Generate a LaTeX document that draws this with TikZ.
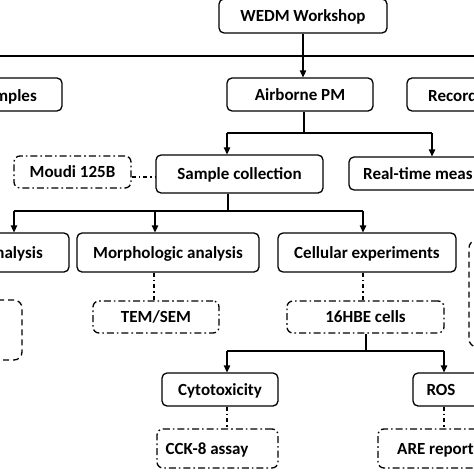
\documentclass[tikz,border=0pt]{standalone}
\usepackage{fontspec}
\setmainfont{Carlito}
\usetikzlibrary{arrows.meta}
\tikzset{
  every node/.style={font=\bfseries\fontsize{17}{20}\selectfont, text height=11pt, text depth=0pt, inner sep=0pt},
  box/.style={draw, rounded corners=5pt, line width=1.3pt},
  dbox/.style={draw, rounded corners=6pt, line width=1.3pt, dash pattern=on 7pt off 3pt on 1.6pt off 3pt},
  ldbox/.style={draw, rounded corners=8pt, line width=1.3pt, dash pattern=on 6pt off 4pt},
  conn/.style={line width=1.3pt},
  arr/.style={line width=1.3pt, -{Triangle[length=7pt,width=6.5pt]}},
  dconn/.style={line width=1.3pt, dash pattern=on 4pt off 3pt on 1.6pt off 3pt},
}
\begin{document}
\begin{tikzpicture}[x=1pt,y=-1pt]
\useasboundingbox (0,0) rectangle (474,474);
\clip (0,0) rectangle (474,474);
% row 0
\node[box, minimum width=168pt, minimum height=34pt] (wedm) at (303,16) {WEDM Workshop};
% row 1
\node[box, minimum width=132pt, minimum height=33pt] (samples) at (-4,94.5) {};
\node (samplesT) [anchor=east] at (37,96) {Samples};
\node[box, minimum width=146pt, minimum height=33pt] (airborne) at (300,94.5) {Airborne PM};
\node[box, minimum width=133pt, minimum height=33pt] (record) at (473.5,94.5) {};
\node (recordT) [anchor=west] at (428,96) {Record};
% row 2
\node[dbox, minimum width=117pt, minimum height=32pt] (moudi) at (72.5,172) {Moudi 125B};
\node[box, minimum width=167pt, minimum height=38pt] (sample) at (239.5,174) {Sample collection};
\node[box, minimum width=191pt, minimum height=33pt] (realtime) at (444.5,173.5) {};
\node (realtimeT) [anchor=west] at (363,174) {Real-time meas};
% row 3
\node[box, minimum width=139pt, minimum height=39pt] (analysis) at (-0.5,252.5) {};
\node (analysisT) [anchor=east] at (43,253) {analysis};
\node[box, minimum width=182pt, minimum height=39pt] (morph) at (168,252.5) {Morphologic analysis};
\node[box, minimum width=178pt, minimum height=39pt] (cell) at (367,252.5) {Cellular experiments};
\node[ldbox, minimum width=80pt, minimum height=107pt] (rdash) at (509,293.5) {};
% row 4
\node[ldbox, minimum width=72pt, minimum height=60pt] (ldash) at (-14,330) {};
\node[dbox, minimum width=126pt, minimum height=32pt] (tem) at (156,317) {TEM/SEM};
\node[dbox, minimum width=157pt, minimum height=32pt] (hbe) at (365.5,317) {16HBE cells};
% row 5
\node[box, minimum width=116pt, minimum height=33pt] (cyto) at (220,389.5) {Cytotoxicity};
\node[box, minimum width=117pt, minimum height=33pt] (ros) at (471.5,389.5) {};
\node (rosT) at (441,390) {ROS};
% row 6
\node[dbox, minimum width=121pt, minimum height=39pt] (cck) at (217.5,448.5) {};
\node (cckT) at (207,449) {CCK-8 assay};
\node[dbox, minimum width=162pt, minimum height=39pt] (are) at (459,448.5) {};
\node (areT) [anchor=west] at (397,449) {ARE report};
% connectors
\coordinate (h1a) at (-5,56);
\coordinate (h1b) at (480,56);
\draw[conn] (h1a) -- (h1b);
\draw[arr] (wedm.south) -- (wedm.south |- airborne.north);
\coordinate (j1) at (304,133);
\coordinate (j1l) at (227,133);
\coordinate (j1r) at (432,133);
\draw[conn] (airborne.south -| j1) -- (j1);
\draw[conn] (j1l) -- (j1r);
\draw[arr] (j1l) -- (j1l |- sample.north);
\draw[arr] (j1r) -- (j1r |- realtime.north);
\draw[dconn] (moudi.east |- 0,177) -- (sample.west |- 0,177);
\coordinate (j2) at (228,211);
\coordinate (j2l) at (14,211);
\coordinate (j2m) at (155,211);
\coordinate (j2r) at (363,211);
\draw[conn] (sample.south -| j2) -- (j2);
\draw[conn] (j2l) -- (j2r);
\draw[arr] (j2l) -- (j2l |- analysis.north);
\draw[arr] (j2m) -- (j2m |- morph.north);
\draw[arr] (j2r) -- (j2r |- cell.north);
\draw[dconn] (morph.south -| 154,0) -- (tem.north -| 154,0);
\draw[dconn] (cell.south -| 363,0) -- (hbe.north -| 363,0);
\coordinate (j3) at (366,351);
\coordinate (j3l) at (227,351);
\coordinate (j3r) at (444,351);
\draw[conn] (hbe.south -| j3) -- (j3);
\draw[conn] (j3l) -- (j3r);
\draw[arr] (j3l) -- (j3l |- cyto.north);
\draw[arr] (j3r) -- (j3r |- ros.north);
\draw[dconn] (cyto.south -| 227,0) -- (cck.north -| 227,0);
\draw[dconn] (ros.south -| 444,0) -- (are.north -| 444,0);
\end{tikzpicture}
\end{document}
